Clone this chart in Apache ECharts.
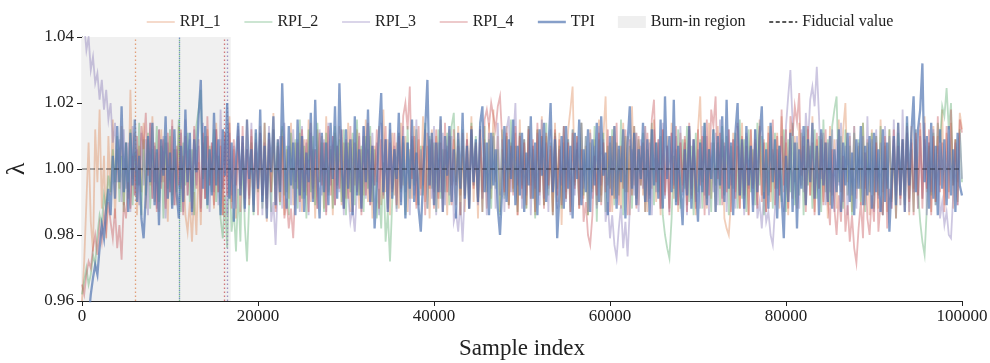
<!DOCTYPE html>
<html>
<head>
<meta charset="utf-8">
<script src="https://cdn.jsdelivr.net/npm/echarts@6/dist/echarts.min.js"></script>
<style>html,body{margin:0;padding:0;background:#fff}#c{width:990px;height:363px}</style>
</head>
<body>
<div id="c"></div>
<script>
// Samples between plotted (thinned) points of every trace
const sampleStep = 250;
const xTicks = [0, 20000, 40000, 60000, 80000, 100000];
const yTicks = [0.96, 0.98, 1.00, 1.02, 1.04];
const seriesNames = ["RPI_1", "RPI_2", "RPI_3", "RPI_4", "TPI"];
const fiducialValue = 1.0;
const burnInRegionEnd = 16900;
const burnInEnds = [6100, 11100, 16450, 16150, 11100]; // RPI_1, RPI_2, RPI_3, RPI_4, TPI

const rpi1 = [
0.960,0.972,0.990,1.008,0.984,0.975,1.012,0.996,1.018,0.988,1.004,0.979,1.010,0.992,1.015,0.985,1.006,0.994,1.013,0.989,
1.008,0.991,1.024,0.997,1.011,0.986,1.007,0.993,1.014,0.988,1.009,0.995,1.016,0.990,1.005,0.987,1.012,0.996,1.008,0.984,
1.010,0.992,1.006,0.989,1.013,0.994,1.004,0.986,0.981,0.990,0.978,0.993,0.980,1.002,0.983,1.008,0.991,1.012,0.995,1.007,
0.988,1.014,0.993,1.009,0.986,1.011,0.997,1.016,0.990,1.006,0.985,1.012,0.994,1.008,0.989,1.015,0.992,1.010,0.987,1.005,
0.996,1.013,0.990,1.007,0.984,1.011,0.993,1.017,0.988,1.009,0.995,1.012,0.986,1.006,0.991,1.014,0.989,1.008,0.994,1.011,
0.987,1.009,0.992,1.015,0.990,1.006,0.985,1.012,0.996,1.010,0.988,1.016,0.993,1.007,0.986,1.011,0.994,1.013,0.989,1.008,
0.991,1.014,0.987,1.009,0.995,1.012,0.988,1.006,0.992,1.015,0.990,1.010,0.985,1.007,0.996,1.013,0.989,1.018,0.993,1.009,
0.986,1.011,0.992,1.008,0.988,1.014,0.995,1.010,0.987,1.006,0.991,1.013,0.989,1.009,0.994,1.016,0.990,1.007,0.985,1.012,
0.993,1.010,0.988,1.015,0.991,1.006,0.986,1.012,0.995,1.009,0.989,1.013,0.992,1.007,0.987,1.011,0.994,1.016,0.990,1.008,
0.985,1.012,0.993,1.009,0.988,1.014,0.991,1.018,0.996,1.010,0.987,1.006,0.992,1.013,0.989,1.008,0.994,1.011,0.986,1.015,
0.991,1.009,0.988,1.013,0.995,1.007,0.986,1.012,0.992,1.016,0.989,1.010,0.994,1.006,0.987,1.014,0.990,1.011,0.983,1.008,
0.993,1.012,1.018,1.025,0.996,1.010,0.988,1.014,0.991,1.007,0.986,1.012,0.994,1.009,0.989,1.015,0.992,1.010,1.022,0.995,
1.008,0.987,1.013,0.991,1.006,0.988,1.014,0.993,1.010,0.986,1.019,0.995,1.011,0.989,1.007,0.992,1.013,0.987,1.009,0.994,
1.015,0.990,1.008,0.986,1.012,0.993,1.010,0.988,1.014,0.991,1.006,0.987,1.011,0.995,1.009,0.989,1.013,0.992,1.007,0.986,
1.012,1.022,0.996,1.010,0.988,1.014,0.991,1.008,0.987,1.013,0.994,1.009,0.985,0.982,0.980,0.990,1.011,0.993,1.007,0.988,
1.014,0.991,1.010,0.986,1.012,0.995,1.008,0.989,1.015,0.992,1.009,0.987,1.013,0.990,1.006,0.994,1.011,0.988,1.016,0.993,
1.008,0.986,1.012,0.991,1.010,0.988,1.014,0.995,1.007,0.989,1.012,0.992,1.016,0.987,1.009,0.994,1.011,0.990,1.008,0.985,
1.013,0.992,1.009,0.988,1.015,0.993,1.012,1.020,0.996,1.010,0.987,1.013,0.991,1.007,0.989,1.014,0.994,1.009,0.986,1.012,
0.992,1.010,0.988,1.015,0.993,1.007,0.987,1.012,0.991,1.009,0.995,1.014,0.989,1.008,0.992,1.011,0.986,1.013,0.994,1.009,
0.988,1.012,0.991,1.016,0.993,1.008,0.987,1.013,0.990,1.010,0.995,1.018,0.989,1.011,0.993,1.014,0.988,1.009,0.996,1.017,
1.012];

const rpi2 = [
0.962,0.966,0.970,0.965,0.968,0.974,0.971,0.980,0.986,0.983,0.992,0.988,0.998,0.993,1.006,0.996,1.010,0.990,1.004,0.987,
1.008,0.993,1.012,0.989,1.005,0.995,1.014,0.986,1.009,0.992,1.011,0.988,1.006,0.996,1.013,0.990,1.007,0.985,1.010,0.994,
1.012,0.989,1.006,0.993,1.015,0.987,1.008,0.995,1.011,0.990,1.006,0.986,1.013,1.018,1.024,0.997,1.010,0.988,1.007,0.993,
1.012,0.990,1.004,0.985,0.979,0.992,0.976,1.003,0.981,0.988,0.975,0.994,0.978,1.006,0.983,0.972,0.990,1.008,0.986,1.011,
0.993,1.009,0.988,1.014,0.991,1.006,0.987,1.012,0.995,1.008,0.989,1.013,0.992,1.007,0.986,1.011,0.994,1.009,0.988,1.015,
0.991,1.007,0.985,1.012,0.993,1.010,0.989,1.014,0.996,1.008,0.987,1.011,0.992,1.006,0.988,1.013,0.995,1.009,0.990,1.012,
0.986,1.008,0.993,1.011,0.989,1.015,0.992,1.007,0.987,1.010,0.994,1.013,0.990,1.006,0.985,0.994,0.982,1.002,0.978,0.987,
0.972,0.990,1.006,0.988,1.011,0.993,1.008,0.986,1.013,0.991,1.009,0.995,1.012,0.989,1.007,0.992,1.014,0.988,1.010,0.994,
1.008,0.987,1.012,0.991,1.006,0.993,1.011,0.989,1.013,1.017,0.996,1.009,0.986,1.012,0.992,1.007,0.988,1.014,0.995,1.010,
0.990,1.008,0.987,1.013,0.993,1.009,0.988,1.011,0.994,1.006,0.986,1.012,0.991,1.010,0.989,1.015,0.993,1.007,0.987,1.011,
0.995,1.009,0.988,1.013,0.991,1.006,0.985,1.012,0.993,1.010,0.989,1.014,0.992,1.008,0.986,1.011,0.994,1.007,0.988,1.013,
0.991,1.009,0.987,1.012,0.995,1.006,0.989,1.014,0.992,1.010,0.986,1.008,0.993,1.013,0.984,1.009,0.990,1.011,0.987,1.007,
0.994,1.012,0.989,1.008,0.992,1.015,0.986,1.010,0.993,1.007,0.988,1.013,0.991,1.009,0.995,1.011,0.987,1.006,0.992,1.014,
0.989,1.008,0.993,1.010,0.986,0.980,0.976,0.973,0.985,1.004,0.990,1.012,0.988,1.009,0.994,1.013,0.990,1.007,0.986,1.011,
0.993,1.009,0.988,1.014,0.991,1.006,0.987,1.012,0.995,1.008,0.989,1.013,0.992,1.010,0.986,1.007,0.994,1.011,0.988,1.015,
0.991,1.009,0.987,1.012,0.993,1.006,0.989,1.014,0.995,1.010,0.986,1.008,0.992,1.013,0.988,1.011,0.994,1.007,0.990,1.012,
0.987,1.009,0.993,1.014,0.989,1.008,0.992,1.011,0.986,1.013,0.995,1.007,0.988,1.012,0.991,1.010,0.987,1.015,0.993,1.009,
0.989,1.013,1.018,1.022,0.996,1.010,0.988,1.012,0.992,1.007,0.986,1.011,0.994,1.009,0.990,1.014,0.987,1.008,0.993,1.011,
0.988,1.010,0.992,1.013,0.986,1.008,0.994,1.012,0.990,1.007,0.985,1.011,0.993,1.009,0.989,1.014,0.991,1.006,0.987,1.012,
0.993,0.984,0.978,0.974,0.988,1.007,0.992,1.011,0.989,1.014,1.008,1.019,1.016,1.0245,1.012,1.020,0.995,1.009,0.990,1.012,
0.996];

const rpi3 = [
1.048,1.044,1.036,1.040,1.030,1.034,1.026,1.029,1.021,1.027,1.018,1.024,1.015,1.020,1.008,1.014,0.996,1.009,0.990,1.012,
0.994,1.008,0.987,1.013,0.992,1.006,0.989,1.011,0.995,1.009,0.986,1.014,0.991,1.007,0.988,1.012,0.996,1.010,0.985,1.008,
0.993,1.013,0.989,1.006,0.994,1.011,0.987,1.015,0.992,1.009,0.986,1.012,0.995,1.007,0.988,1.014,0.991,1.010,0.987,1.008,
0.993,1.012,0.989,1.018,0.994,1.009,0.986,1.011,0.992,1.007,0.988,1.013,0.995,1.010,0.987,1.006,0.991,1.014,0.989,1.009,
0.994,1.011,0.986,1.008,0.992,1.013,0.984,0.990,0.977,0.995,1.010,0.988,1.014,0.993,1.007,0.989,1.012,0.996,1.009,0.987,
1.013,0.991,1.008,0.986,1.011,0.994,1.006,0.988,1.012,0.992,1.009,0.987,1.014,0.995,1.010,0.989,1.007,0.993,1.012,0.986,
1.008,0.992,0.984,0.988,0.981,0.994,1.010,0.987,1.013,0.991,1.006,0.989,1.011,0.995,1.008,0.986,1.014,0.992,1.009,0.988,
1.012,0.994,1.007,0.987,1.011,0.990,1.013,0.993,1.008,0.986,1.010,0.992,1.015,0.989,1.006,0.995,1.012,0.988,1.009,0.991,
1.013,0.986,1.008,0.993,1.011,0.989,1.007,0.992,1.010,0.984,0.987,0.981,0.990,0.978,0.993,1.009,0.988,1.012,0.995,1.007,
0.989,1.013,0.991,1.008,0.986,1.011,0.994,1.010,0.988,1.014,0.992,1.009,0.987,1.012,1.016,0.993,1.008,1.020,0.995,1.011,
0.988,1.009,0.992,1.013,0.986,1.007,0.994,1.011,0.989,1.015,0.991,1.008,0.987,1.012,0.993,1.010,0.988,1.006,0.995,1.013,
0.990,1.009,0.986,1.012,0.992,1.008,0.989,1.014,0.994,1.010,0.987,1.011,0.991,1.007,0.988,1.013,0.995,1.009,0.984,0.990,
0.979,0.986,0.977,0.973,0.982,0.989,0.976,0.984,0.9735,0.988,1.006,0.992,1.011,0.987,1.009,0.994,1.013,0.990,1.008,0.986,
1.012,0.993,1.009,0.988,1.014,0.991,1.007,0.987,1.011,0.995,1.010,0.989,1.013,0.992,1.008,0.986,1.012,0.994,1.009,0.990,
1.006,0.988,1.013,0.992,1.010,0.986,1.008,0.993,1.011,0.989,1.015,0.991,1.007,0.987,1.012,0.995,1.009,0.988,1.013,0.992,
1.008,0.986,1.011,0.994,1.007,0.989,1.012,0.985,0.990,0.982,0.993,0.984,0.987,0.980,0.977,0.988,1.006,0.992,1.010,0.987,
1.013,1.022,1.030,1.014,0.996,1.010,0.988,1.012,0.993,1.017,1.008,1.021,1.025,1.019,1.031,1.016,0.997,1.011,0.989,1.008,
0.993,1.012,0.987,1.009,0.995,1.014,0.990,1.007,0.986,1.011,0.992,1.013,0.988,1.008,0.994,1.010,0.989,1.016,0.993,1.009,
0.987,1.012,0.991,1.008,0.986,1.013,0.994,1.010,0.988,1.015,0.992,1.007,0.989,1.018,0.995,1.011,0.987,1.009,0.993,1.012,
0.988,1.010,0.991,1.014,0.986,1.008,0.993,1.012,0.989,1.007,0.985,0.990,0.983,0.987,0.980,0.979,0.992,1.008,0.989,1.011,
0.997];

const rpi4 = [
0.965,0.962,0.968,0.972,0.970,0.976,0.980,0.974,0.983,0.978,0.986,0.981,0.990,0.984,0.979,0.988,0.976,0.983,0.9725,0.990,
0.985,0.996,0.988,1.004,0.992,1.010,0.995,1.013,1.006,1.017,0.998,1.014,0.991,1.008,0.987,1.012,0.994,1.009,0.988,1.011,
0.993,1.015,0.989,1.007,0.995,1.012,0.986,1.010,0.992,1.006,0.988,1.013,0.994,1.009,0.987,1.011,0.991,1.016,0.995,1.008,
0.989,1.012,0.993,1.007,0.986,1.011,0.992,1.014,0.988,1.009,0.995,1.010,0.987,1.013,0.991,1.006,0.989,1.012,0.994,1.008,
0.986,1.011,0.992,1.014,0.988,1.009,0.993,1.012,0.987,1.007,0.990,1.010,0.985,0.991,0.982,0.988,0.979,0.994,1.008,0.990,
1.012,0.993,1.009,0.987,1.014,0.991,1.006,0.988,1.011,0.995,1.008,0.986,1.013,0.992,1.010,0.989,1.007,0.994,1.012,0.988,
1.009,0.991,1.013,0.987,1.008,0.993,1.011,0.986,1.010,0.992,1.014,0.989,1.007,0.995,1.012,0.988,1.009,0.991,1.013,0.987,
1.008,0.993,1.011,0.989,1.010,0.994,1.016,1.020,1.012,1.025,0.997,1.010,0.988,1.013,0.992,1.007,0.986,1.011,0.994,1.009,
0.988,1.012,0.991,1.008,0.987,1.014,0.993,1.010,0.989,1.012,0.995,1.007,0.986,1.011,0.992,1.009,0.988,1.013,0.994,1.008,
0.990,1.012,0.987,1.015,1.018,1.013,1.020,1.016,1.012,1.019,1.022,1.009,0.993,1.011,0.988,1.007,0.992,1.013,0.986,1.010,
0.994,1.008,0.989,1.012,0.991,1.009,0.987,1.014,0.993,1.010,0.988,1.011,0.995,1.007,0.986,1.012,0.992,1.009,0.989,1.013,
0.991,1.008,0.987,1.011,0.994,1.010,0.988,1.006,0.984,0.990,0.980,0.977,0.986,1.004,0.992,1.011,0.989,1.008,0.993,1.012,
0.987,1.010,0.991,1.014,0.989,1.007,0.994,1.012,0.986,1.009,0.992,1.013,0.988,1.010,0.995,1.008,0.987,1.011,0.991,1.015,
1.021,0.996,1.009,0.988,1.012,0.992,1.007,0.986,1.011,0.994,1.013,0.989,1.008,0.993,1.010,0.987,1.014,0.991,1.009,0.988,
1.012,0.995,1.010,0.986,1.015,0.992,1.018,1.013,1.022,0.997,1.011,0.989,1.008,0.993,1.012,0.987,1.009,0.991,1.014,0.988,
1.010,0.992,1.007,0.986,1.012,0.994,1.009,0.988,1.013,0.990,1.008,0.987,1.011,0.993,1.015,0.989,1.010,0.992,1.018,0.995,
1.012,0.988,1.016,1.010,1.019,1.014,1.023,0.998,1.010,0.987,1.013,0.992,1.008,0.986,1.011,0.994,1.009,0.989,1.012,0.991,
0.983,1.006,0.988,0.980,0.992,0.984,1.004,0.981,0.989,0.978,0.986,0.976,0.9715,0.982,0.990,0.979,1.005,0.985,0.980,0.992,
0.984,1.008,0.981,0.990,0.986,1.010,0.982,0.994,0.988,1.012,0.985,1.007,0.991,1.009,0.987,1.013,0.990,1.008,0.986,1.011,
0.992,1.014,0.988,1.009,0.994,1.012,0.986,1.010,0.990,1.016,0.993,1.008,0.987,1.013,0.991,1.018,0.995,1.009,0.989,1.015,
1.011];

const tpi = [
0.948,0.953,0.957,0.955,0.962,0.967,0.971,0.968,0.976,0.983,0.979,0.988,0.994,0.986,1.004,0.991,1.013,0.996,1.019,0.993,
1.008,0.987,1.011,0.995,1.015,0.990,1.004,0.985,0.979,0.992,1.010,0.996,1.014,0.989,1.006,0.983,1.009,0.998,1.016,0.991,
1.005,0.988,1.012,0.993,0.985,1.007,0.990,1.018,0.996,1.011,0.987,1.009,0.999,1.016,1.027,0.994,1.013,0.989,1.006,0.992,
1.017,0.995,1.009,0.986,1.012,0.998,1.020,0.991,1.008,0.984,1.003,1.014,0.992,1.010,0.988,1.015,0.997,1.006,0.987,1.012,
0.994,1.018,0.990,1.007,0.985,1.011,0.999,1.016,0.989,1.009,0.993,1.026,1.004,0.988,1.013,0.995,1.008,0.986,1.015,0.992,
1.010,0.987,1.005,0.996,1.017,0.990,1.021,0.998,0.985,1.011,0.993,1.008,0.989,1.014,0.997,1.019,0.991,1.026,1.002,0.988,
1.012,0.994,1.009,0.986,1.016,0.992,1.006,0.988,1.013,0.996,1.018,0.990,1.007,0.982,0.995,1.011,1.023,0.993,1.009,0.987,
1.014,0.991,1.006,0.997,1.017,0.989,1.010,0.985,1.008,0.994,1.015,0.990,1.005,0.988,0.981,0.996,1.012,1.027,0.995,1.011,
0.989,1.008,0.993,1.016,0.987,1.010,0.998,1.013,0.990,1.006,0.985,1.011,0.994,1.017,0.991,1.007,0.988,1.012,0.996,1.009,
0.990,1.014,1.019,0.993,1.008,0.986,1.011,0.995,1.006,0.988,0.980,0.994,1.013,0.990,1.009,0.997,1.015,0.989,1.007,0.992,
1.011,0.987,1.005,0.995,1.016,0.991,1.008,0.986,1.012,0.998,1.014,0.990,1.006,1.020,0.993,1.009,0.979,0.992,1.010,0.988,
1.013,0.994,1.007,0.985,1.011,0.997,1.015,0.989,1.006,0.993,1.012,0.987,1.009,0.995,1.014,0.990,1.016,0.998,1.005,0.986,
1.010,0.992,1.013,0.988,1.007,0.996,1.012,0.985,1.008,1.019,0.994,1.011,0.989,1.006,0.997,1.014,0.990,1.009,0.986,1.012,
0.995,1.008,0.991,1.015,0.988,1.022,0.997,1.010,0.993,1.021,0.989,1.007,0.994,0.983,1.006,0.992,1.013,0.988,1.009,0.996,
0.984,1.008,0.993,1.014,0.989,1.006,0.997,1.012,0.987,1.010,0.995,1.016,0.990,1.021,0.994,1.008,0.986,1.011,1.020,0.992,
1.009,0.988,1.013,0.995,1.007,0.987,1.012,0.993,1.010,1.019,0.991,1.006,0.988,1.014,0.996,1.009,0.985,1.007,0.992,0.979,
1.004,0.990,1.011,0.987,1.008,0.982,1.006,0.994,1.013,0.989,1.009,0.996,1.014,0.991,1.007,0.986,1.012,0.995,1.008,0.990,
1.010,0.988,1.006,0.993,1.012,0.987,1.008,0.995,1.011,0.990,1.005,0.986,1.009,0.994,1.013,0.989,1.007,0.992,1.010,0.988,
1.011,0.993,1.006,0.987,1.012,0.990,1.008,0.981,0.996,1.010,0.989,1.014,0.992,1.009,0.987,1.016,0.995,1.011,1.022,0.993,
1.012,1.018,1.032,0.996,1.010,0.988,1.014,0.991,1.007,0.986,1.012,0.994,1.009,0.989,1.013,0.992,1.006,0.987,1.011,0.995,
0.992];

const colors = ["#DD8452", "#55A868", "#8172B3", "#C44E52", "#4C72B0"];
const alphas = [0.4, 0.4, 0.4, 0.4, 0.68];
const widths = [1.8, 1.8, 1.8, 1.8, 2.3];
const traces = [rpi1, rpi2, rpi3, rpi4, tpi];

function rgba(hex, a) {
  const n = parseInt(hex.slice(1), 16);
  return `rgba(${(n >> 16) & 255},${(n >> 8) & 255},${n & 255},${a})`;
}
const FONT = "'Liberation Serif', 'DejaVu Serif', serif";

const series = [];
series.push({
  name: "Burn-in region", type: "line", data: [], z: 1,
  itemStyle: { color: "#efefef" },
  markArea: { silent: true, itemStyle: { color: "#f0f0f0" },
    data: [[{ xAxis: 0 }, { xAxis: burnInRegionEnd }]] },
  markLine: { silent: true, symbol: "none", label: { show: false }, animation: false,
    data: burnInEnds.map((b, k) => ({ xAxis: b,
      lineStyle: { color: rgba(colors[k], 0.75), type: [1.5, 2.5], width: 1.3, dashOffset: k === 4 ? 2 : 0 } })) }
});
traces.forEach((arr, k) => {
  series.push({
    name: seriesNames[k], type: "line", symbol: "none", showSymbol: false, z: 2 + k,
    data: arr.map((v, i) => [i * sampleStep, v]),
    lineStyle: { color: rgba(colors[k], alphas[k]), width: widths[k], join: "miter" },
    itemStyle: { color: rgba(colors[k], alphas[k]) },
    clip: true, animation: false
  });
});
series.push({
  name: "Fiducial value", type: "line", symbol: "none", showSymbol: false, z: 20,
  data: [[xTicks[0], fiducialValue], [xTicks[xTicks.length - 1], fiducialValue]],
  lineStyle: { color: "rgba(0,0,0,0.6)", type: [5, 3], width: 1.2 },
  itemStyle: { color: "rgba(0,0,0,0.85)" }
});

const hideSym = { opacity: 0 };
const chart = echarts.init(document.getElementById("c"), null, { renderer: "canvas" });
chart.setOption({
  animation: false,
  backgroundColor: "#ffffff",
  legend: {
    left: 141, top: 9, itemWidth: 28, itemHeight: 12, itemGap: 23,
    textStyle: { fontFamily: FONT, fontSize: 16, color: "#222" },
    data: [
      { name: "RPI_1", itemStyle: hideSym, lineStyle: { width: 1.5 } },
      { name: "RPI_2", itemStyle: hideSym, lineStyle: { width: 1.5 } },
      { name: "RPI_3", itemStyle: hideSym, lineStyle: { width: 1.5 } },
      { name: "RPI_4", itemStyle: hideSym, lineStyle: { width: 1.5 } },
      { name: "TPI", itemStyle: hideSym, lineStyle: { width: 2.5 } },
      { name: "Burn-in region", icon: "rect", itemStyle: { color: "#efefef", opacity: 1 } },
      { name: "Fiducial value", itemStyle: hideSym, lineStyle: { color: "#222", type: [4, 2.5], width: 1.5 } }
    ]
  },
  grid: { left: 82, right: 28, top: 37, bottom: 62, containLabel: false, outerBoundsMode: "none" },
  xAxis: {
    type: "value", min: xTicks[0], max: xTicks[xTicks.length - 1], interval: 20000,
    name: "Sample index", nameLocation: "middle", nameGap: 36,
    nameTextStyle: { fontFamily: FONT, fontSize: 23, color: "#222" },
    axisLine: { lineStyle: { color: "#222", width: 1.1 } },
    axisTick: { show: true, length: 5, lineStyle: { color: "#222" } },
    axisLabel: { fontFamily: FONT, fontSize: 17, color: "#222", margin: 7,
      formatter: v => String(v) },
    splitLine: { show: false }
  },
  yAxis: {
    type: "value", min: yTicks[0], max: yTicks[yTicks.length - 1], interval: 0.02,
    name: "λ", nameLocation: "middle", nameGap: 52, nameRotate: 90,
    nameTextStyle: { fontFamily: FONT, fontSize: 26, color: "#222" },
    axisLine: { show: true, lineStyle: { color: "#222", width: 1.1 } },
    axisTick: { show: true, length: 5, lineStyle: { color: "#222" } },
    axisLabel: { fontFamily: FONT, fontSize: 17, color: "#222", margin: 8,
      formatter: v => v.toFixed(2) },
    splitLine: { show: false }
  },
  series: series
});
</script>
</body>
</html>
